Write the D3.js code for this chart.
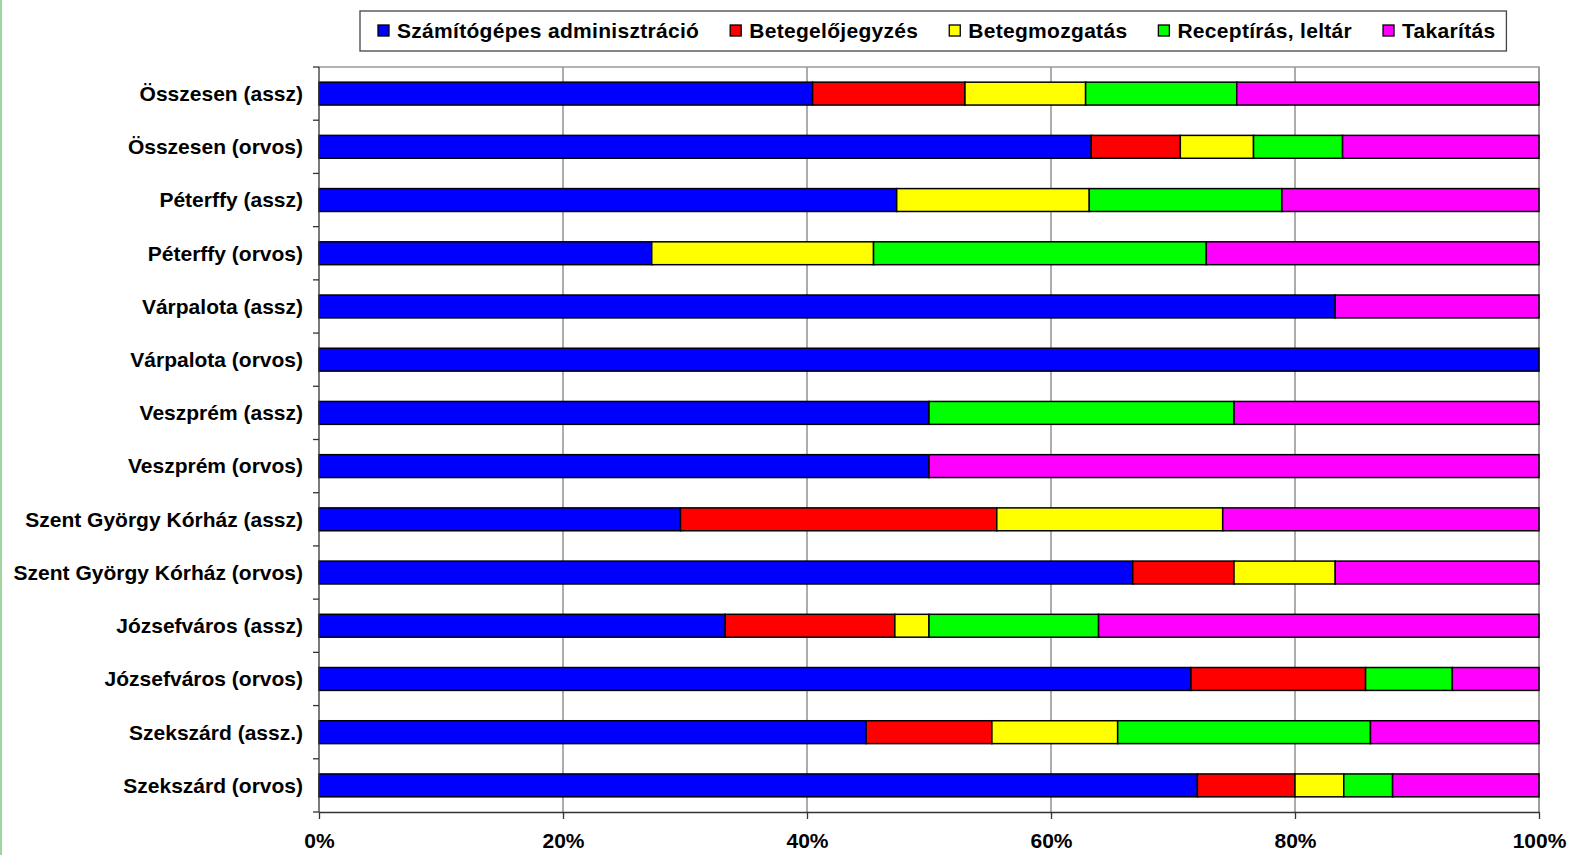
<!DOCTYPE html>
<html>
<head>
<meta charset="utf-8">
<script src="https://cdn.jsdelivr.net/npm/d3@7"></script>
<style>
  html, body { margin: 0; padding: 0; background: #fff; }
  svg { display: block; font-family: "Liberation Sans", Arial, sans-serif; font-weight: bold; }
</style>
</head>
<body>
<svg id="chart" width="1572" height="855"></svg>
<script>
// kategóriák (felülről lefelé)
const categories = [
  'Összesen (assz)', 'Összesen (orvos)', 'Péterffy (assz)', 'Péterffy (orvos)',
  'Várpalota (assz)', 'Várpalota (orvos)', 'Veszprém (assz)', 'Veszprém (orvos)',
  'Szent György Kórház (assz)', 'Szent György Kórház (orvos)',
  'Józsefváros (assz)', 'Józsefváros (orvos)', 'Szekszárd (assz.)', 'Szekszárd (orvos)'
];
const seriesNames = ['Számítógépes adminisztráció', 'Betegelőjegyzés', 'Betegmozgatás', 'Receptírás, leltár', 'Takarítás'];
const seriesColors = ['#0000ff', '#ff0000', '#ffff00', '#00ff00', '#ff00ff'];

// százalékok
const szamitogepes = [40.5, 63.3, 47.4, 27.3, 83.3, 100, 50, 50, 29.6, 66.7, 33.3, 71.4, 44.8, 72.0];
const betegelojegyzes = [12.5, 7.3, 0, 0, 0, 0, 0, 0, 25.9, 8.3, 13.9, 14.3, 10.3, 8.0];
const betegmozgatas = [9.9, 6.0, 15.8, 18.2, 0, 0, 0, 0, 18.5, 8.3, 2.8, 0, 10.3, 4.0];
const receptiras = [12.4, 7.3, 15.8, 27.3, 0, 0, 25, 0, 0, 0, 13.9, 7.1, 20.7, 4.0];
const takaritas = [24.8, 16.1, 21.1, 27.3, 16.7, 0, 25, 50, 25.9, 16.7, 36.1, 7.1, 13.8, 12.0];
const tickValues = [0, 0.2, 0.4, 0.6, 0.8, 1];

const seriesValues = [szamitogepes, betegelojegyzes, betegmozgatas, receptiras, takaritas];
const rows = categories.map((c, i) => {
  const r = { cat: c };
  seriesNames.forEach((s, k) => r[s] = seriesValues[k][i]);
  return r;
});

const svg = d3.select('#chart');
const mLeft = 319, mRight = 1539, mTop = 67, mBottom = 812;

// bal szélső zöld vonal
svg.append('line')
  .attr('x1', 1).attr('x2', 1).attr('y1', 0).attr('y2', 855)
  .attr('stroke', '#9fd69f').attr('stroke-width', 2);

const x = d3.scaleLinear().domain([0, 1]).range([mLeft, mRight]);
const y = d3.scaleBand().domain(categories).range([mTop, mBottom])
  .paddingInner(0.57).paddingOuter(0.285);

// rácsvonalak
svg.append('g')
  .selectAll('line')
  .data(tickValues.filter(d => d > 0))
  .join('line')
  .attr('x1', d => x(d)).attr('x2', d => x(d))
  .attr('y1', mTop).attr('y2', mBottom)
  .attr('stroke', '#808080')
  .attr('stroke-width', 1.3);

// plot terület felső és jobb kerete
svg.append('path')
  .attr('d', `M${mLeft},${mTop}H${mRight}V${mBottom}`)
  .attr('fill', 'none').attr('stroke', '#999').attr('stroke-width', 1.5);

// oszlopok
const stack = d3.stack().keys(seriesNames).offset(d3.stackOffsetExpand);
const stacked = stack(rows);

svg.append('g')
  .selectAll('g')
  .data(stacked)
  .join('g')
  .attr('fill', (d, i) => seriesColors[i])
  .selectAll('rect')
  .data(d => d.filter(p => p[1] - p[0] > 0))
  .join('rect')
  .attr('x', d => x(d[0]))
  .attr('width', d => x(d[1]) - x(d[0]))
  .attr('y', d => y(d.data.cat))
  .attr('height', y.bandwidth())
  .attr('stroke', '#000')
  .attr('stroke-width', 1.5);

// x tengely
const xAxis = svg.append('g')
  .attr('transform', `translate(0,${mBottom})`)
  .call(d3.axisBottom(x).tickValues(tickValues).tickFormat(d3.format('.0%')).tickSizeInner(7).tickSizeOuter(0).tickPadding(14));
xAxis.select('.domain').attr('stroke', '#333').attr('stroke-width', 1.3);
xAxis.selectAll('.tick line').attr('stroke', '#333').attr('stroke-width', 1.3);
xAxis.selectAll('.tick text')
  .attr('font-family', '"Liberation Sans", Arial, sans-serif')
  .attr('font-weight', 'bold').attr('font-size', 21).attr('fill', '#000');

// y tengely: vonal, osztásjelek a kategóriahatárokon
const step = y.step();
const edges = categories.map(c => y(c) - (step - y.bandwidth()) / 2).concat([mBottom]);
svg.append('line')
  .attr('x1', mLeft).attr('x2', mLeft).attr('y1', mTop).attr('y2', mBottom)
  .attr('stroke', '#333').attr('stroke-width', 1.3);
svg.append('g')
  .selectAll('line')
  .data(edges)
  .join('line')
  .attr('x1', mLeft - 6).attr('x2', mLeft)
  .attr('y1', d => d).attr('y2', d => d)
  .attr('stroke', '#333').attr('stroke-width', 1.3);
svg.append('g')
  .selectAll('text')
  .data(categories)
  .join('text')
  .attr('x', mLeft - 16)
  .attr('y', d => y(d) + y.bandwidth() / 2)
  .attr('dy', '0.35em')
  .attr('text-anchor', 'end')
  .attr('font-size', 21)
  .text(d => d);

// jelmagyarázat
const legend = svg.append('g');
const legBox = legend.append('rect')
  .attr('fill', '#fff').attr('stroke', '#444').attr('stroke-width', 1.3);
let lx = 378;
seriesNames.forEach((s, i) => {
  legend.append('rect')
    .attr('x', lx).attr('y', 25).attr('width', 11).attr('height', 11)
    .attr('fill', seriesColors[i]).attr('stroke', '#000').attr('stroke-width', 1.3);
  const t = legend.append('text')
    .attr('x', lx + 19).attr('y', 31).attr('dy', '0.35em')
    .attr('font-size', 21).attr('letter-spacing', 0.3)
    .text(s);
  lx += 19 + t.node().getComputedTextLength() + 31;
});
legBox.attr('x', 360).attr('y', 11).attr('width', lx - 31 + 11 - 360).attr('height', 40);
</script>
</body>
</html>
